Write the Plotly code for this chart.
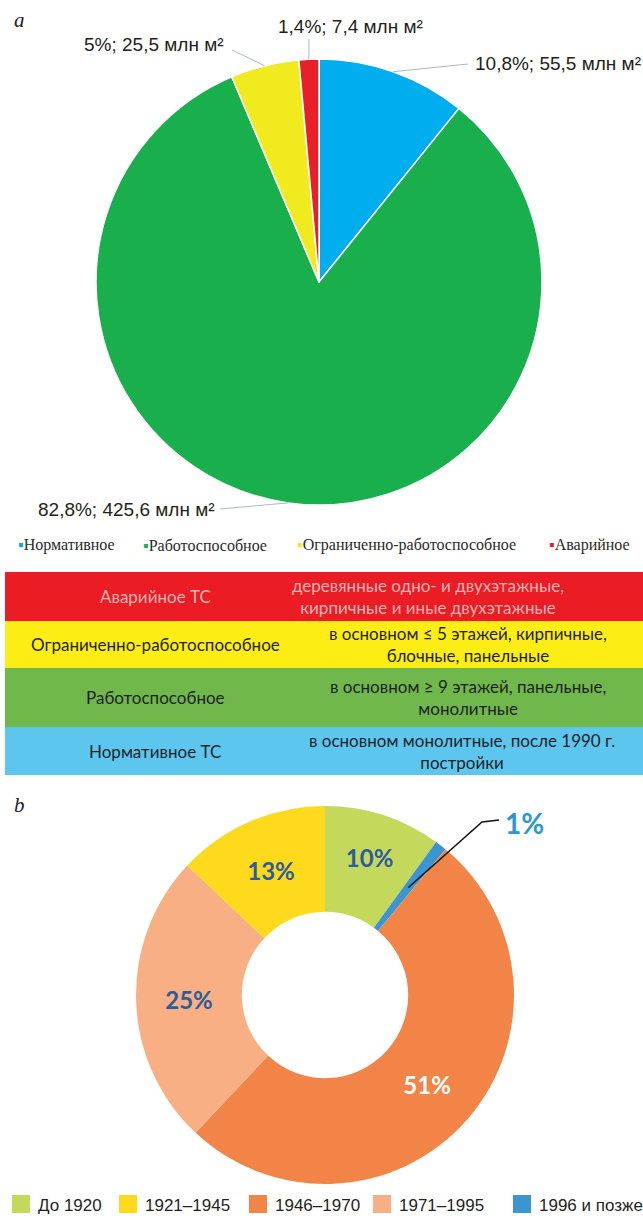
import math
import plotly.graph_objects as go

W, H = 643, 1216

# ---------------- data: panel a ----------------
cond_labels = ["Нормативное", "Работоспособное", "Ограниченно-работоспособное", "Аварийное"]
cond_pct = ["10,8%", "82,8%", "5%", "1,4%"]
cond_area = [55.5, 425.6, 25.5, 7.4]           # млн м2
cond_area_txt = ["55,5", "425,6", "25,5", "7,4"]

# ---------------- data: table ----------------
table_left = ["Аварийное ТС", "Ограниченно-работоспособное", "Работоспособное", "Нормативное ТС"]
table_right = [
    "деревянные одно- и двухэтажные,<br>кирпичные и иные двухэтажные",
    "в основном ≤ 5 этажей, кирпичные,<br>блочные, панельные",
    "в основном ≥ 9 этажей, панельные,<br>монолитные",
    "в основном монолитные, после 1990 г.<br>постройки",
]

# ---------------- data: panel b ----------------
period_labels = ["До 1920", "1996 и позже", "1946–1970", "1971–1995", "1921–1945"]
period_pct = [10, 1, 51, 25, 13]
legend_b_order = ["До 1920", "1921–1945", "1946–1970", "1971–1995", "1996 и позже"]

# ---------------- styles ----------------
cond_colors = ["#00AEEF", "#19AF4D", "#F0EA1E", "#E92027"]
table_fill = ["#EC1C24", "#FCEE14", "#70B84B", "#5CC6EF"]
table_text = ["#F6B4B4", "#1F1F1F", "#1F1F1F", "#1F1F1F"]
period_colors = {"До 1920": "#C4D95C", "1921–1945": "#FFDA1C", "1946–1970": "#F38447",
                 "1971–1995": "#F8AF83", "1996 и позже": "#3A95D0"}
period_text_colors = {"До 1920": "#2C5C9C", "1921–1945": "#2C5C9C", "1946–1970": "#FFFFFF",
                      "1971–1995": "#2C5C9C", "1996 и позже": "#2C5C9C"}


def fx(x):
    return x / W


def fy(y):
    return 1 - y / H


fig = go.Figure()

# ---- pie a ----
A_CX, A_CY, A_R = 319, 282, 223
fig.add_trace(go.Pie(
    labels=cond_labels, values=cond_area, sort=False, direction="clockwise", rotation=0,
    marker=dict(colors=cond_colors, line=dict(color="white", width=1.5)),
    textinfo="none", hoverinfo="skip", showlegend=False,
    domain=dict(x=[fx(A_CX - A_R), fx(A_CX + A_R)], y=[fy(A_CY + A_R), fy(A_CY - A_R)]),
))

# ---- donut b ----
B_CX, B_CY, B_R = 325, 995, 189
fig.add_trace(go.Pie(
    labels=period_labels, values=period_pct, sort=False, direction="clockwise", rotation=0,
    hole=0.44,
    marker=dict(colors=[period_colors[l] for l in period_labels], line=dict(width=0)),
    texttemplate="%{value}%",
    textposition=["none" if v < 2 else "inside" for v in period_pct],
    insidetextorientation="horizontal",
    textfont=dict(family="Lato", size=24, weight="bold",
                  color=[period_text_colors[l] for l in period_labels]),
    hoverinfo="skip", showlegend=False,
    domain=dict(x=[fx(B_CX - B_R), fx(B_CX + B_R)], y=[fy(B_CY + B_R), fy(B_CY - B_R)]),
))

annotations = []
shapes = []


def mid_angle(values, i):
    tot = sum(values)
    before = sum(values[:i])
    return 2 * math.pi * (before + values[i] / 2) / tot


# panel letters
annotations.append(dict(x=fx(12), y=fy(20), xref="paper", yref="paper", text="<i>a</i>",
                        showarrow=False, xanchor="left", yanchor="middle",
                        font=dict(family="Liberation Serif", size=21, color="#222")))
annotations.append(dict(x=fx(12), y=fy(805), xref="paper", yref="paper", text="<i>b</i>",
                        showarrow=False, xanchor="left", yanchor="middle",
                        font=dict(family="Liberation Serif", size=21, color="#222")))

# pie a outside labels with leader lines
label_pos = [  # label anchor, leader end, anchor side
    ((473, 64), (468, 64), "left"),
    ((217, 509), (220, 509), "right"),
    ((226, 45), (232, 50), "right"),
    ((350, 26), None, "center"),
]
for i in range(len(cond_labels)):
    a = mid_angle(cond_area, i)
    tx = A_CX + A_R * math.sin(a)
    ty = A_CY - A_R * math.cos(a)
    (lx, ly), lend, anc = label_pos[i]
    if lend is None:
        lend = (tx, 38)
    shapes.append(dict(type="line", xref="paper", yref="paper",
                       x0=fx(tx), y0=fy(ty), x1=fx(lend[0]), y1=fy(lend[1]),
                       line=dict(color="#A9B8C8", width=1)))
    annotations.append(dict(
        x=fx(lx), y=fy(ly), xref="paper", yref="paper", showarrow=False,
        xanchor=anc, yanchor="middle",
        text=f"{cond_pct[i]}; {cond_area_txt[i]} млн м²",
        font=dict(family="Liberation Sans", size=19, color="#231F20"), bgcolor="white"))

# legend a
leg_a_x = [16, 141, 295, 547]
for i, lab in enumerate(cond_labels):
    annotations.append(dict(
        x=fx(leg_a_x[i]), y=fy(545), xref="paper", yref="paper", showarrow=False,
        xanchor="left", yanchor="middle",
        text=f"<span style='color:{cond_colors[i]}'>▪</span>{lab}",
        font=dict(family="Liberation Serif", size=16, color="#2A2A2A")))

# table
row_edges = [572, 621, 668, 727, 775]
right_cx = [428, 468, 468, 462]
for i in range(len(table_left)):
    y0, y1 = row_edges[i], row_edges[i + 1]
    shapes.append(dict(type="rect", xref="paper", yref="paper", layer="below",
                       x0=fx(5), x1=fx(W), y0=fy(y1), y1=fy(y0),
                       fillcolor=table_fill[i], line=dict(width=0)))
    ym = (y0 + y1) / 2
    annotations.append(dict(x=fx(155), y=fy(ym), xref="paper", yref="paper", showarrow=False,
                            xanchor="center", yanchor="middle", text=table_left[i],
                            font=dict(family="Lato", size=17, color=table_text[i])))
    annotations.append(dict(x=fx(right_cx[i]), y=fy(ym), xref="paper", yref="paper",
                            showarrow=False, xanchor="center", yanchor="middle",
                            text=table_right[i], align="center",
                            font=dict(family="Lato", size=17, color=table_text[i])))

# "1%" callout on donut
small = [i for i, v in enumerate(period_pct) if v < 2][0]
a = mid_angle(period_pct, small)
sx = B_CX + 0.72 * B_R * math.sin(a)
sy = B_CY - 0.72 * B_R * math.cos(a)
shapes.append(dict(type="path", xref="paper", yref="paper",
                   path=f"M{fx(sx)},{fy(sy)} L{fx(482)},{fy(822)} L{fx(499)},{fy(820)}",
                   line=dict(color="#111", width=1.5)))
annotations.append(dict(x=fx(503), y=fy(823), xref="paper", yref="paper", showarrow=False,
                        xanchor="left", yanchor="middle", text=f"{period_pct[small]}%",
                        font=dict(family="Lato", size=28, weight="bold",
                                  color="#2B98D6")))

# legend b
leg_b_sq = [12, 119, 249, 373, 513]
for i, lab in enumerate(legend_b_order):
    shapes.append(dict(type="rect", xref="paper", yref="paper",
                       x0=fx(leg_b_sq[i]), x1=fx(leg_b_sq[i] + 18),
                       y0=fy(1213), y1=fy(1195),
                       fillcolor=period_colors[lab], line=dict(width=0)))
    annotations.append(dict(x=fx(leg_b_sq[i] + 24), y=fy(1205), xref="paper", yref="paper",
                            showarrow=False, xanchor="left", yanchor="middle", text=lab,
                            font=dict(family="Liberation Sans", size=17, color="#231F20")))

fig.update_layout(
    width=W, height=H, autosize=False,
    margin=dict(l=0, r=0, t=0, b=0),
    paper_bgcolor="white", plot_bgcolor="white",
    annotations=annotations, shapes=shapes,
    showlegend=False,
)

fig.write_html("out.html", config={"displayModeBar": False},
               post_script="document.body.style.margin='0';document.body.style.overflow='hidden';")
